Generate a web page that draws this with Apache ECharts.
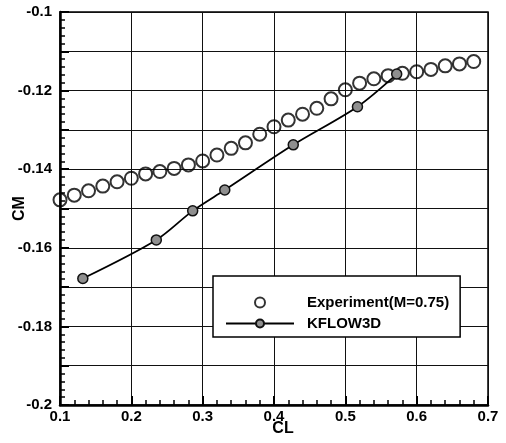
<!DOCTYPE html>
<html>
<head>
<meta charset="utf-8">
<script src="https://cdn.jsdelivr.net/npm/echarts@6/dist/echarts.min.js"></script>
<style>html,body{margin:0;padding:0;background:#fff}#c{width:506px;height:443px}</style>
</head>
<body>
<div id="c"></div>
<script>
var expCL = [0.10,0.12,0.14,0.16,0.18,0.20,0.22,0.24,0.26,0.28,0.30,0.32,0.34,0.36,0.38,0.40,0.42,0.44,0.46,0.48,0.50,0.52,0.54,0.56,0.58,0.60,0.62,0.64,0.66,0.68];
var expCM = [-0.1478,-0.1466,-0.1455,-0.1443,-0.1432,-0.1423,-0.1412,-0.1406,-0.1398,-0.1389,-0.1379,-0.1364,-0.1347,-0.1333,-0.1311,-0.1292,-0.1275,-0.1260,-0.1245,-0.1221,-0.1198,-0.1181,-0.1170,-0.1162,-0.1156,-0.1152,-0.1146,-0.1137,-0.1132,-0.1126];
var kfCL = [0.132,0.235,0.286,0.331,0.427,0.517,0.572];
var kfCM = [-0.1678,-0.1580,-0.1506,-0.1453,-0.1338,-0.1241,-0.1158];
var xTicks = [0.1,0.2,0.3,0.4,0.5,0.6,0.7];
var yTicks = [-0.2,-0.18,-0.16,-0.14,-0.12,-0.1];

var FONT = 'Liberation Sans, Arial, Helvetica, sans-serif';
function pairs(a,b){return a.map(function(v,i){return [v,b[i]];});}

var chart = echarts.init(document.getElementById('c'), null, {renderer:'canvas'});
chart.setOption({
  animation:false,
  backgroundColor:'#fff',
  grid:{left:60,right:18,top:12,bottom:38,containLabel:false,outerBoundsMode:'none',
        show:true,borderColor:'#000',borderWidth:1.5,backgroundColor:'transparent'},
  legend:{
    orient:'vertical',left:213,top:276,
    backgroundColor:'#fff',borderColor:'#000',borderWidth:1.5,
    padding:[19,11,6,12],
    itemWidth:68,itemHeight:10,itemGap:6,
    textStyle:{fontFamily:FONT,fontWeight:'bold',fontSize:15,color:'#000',padding:[0,0,0,8]},
    data:['Experiment(M=0.75)','KFLOW3D']
  },
  xAxis:{
    type:'value',min:0.1,max:0.7,interval:0.1,
    name:'CL',nameLocation:'middle',nameGap:16,nameMoveOverlap:false,
    nameTextStyle:{fontFamily:FONT,fontWeight:'bold',fontSize:16,color:'#000',padding:[0,0,0,18]},
    axisLine:{show:true,lineStyle:{color:'#000',width:2.5}},
    axisTick:{show:true,inside:true,length:9,lineStyle:{color:'#000',width:2}},
    minorTick:{show:true,splitNumber:5,length:5,lineStyle:{color:'#000',width:1.5}},
    splitLine:{show:true,lineStyle:{color:'#111',width:1}},
    axisLabel:{margin:4,fontFamily:FONT,fontWeight:'bold',fontSize:15,color:'#000',
      formatter:function(v){var r=Math.round(v*10)/10;return xTicks.indexOf(r)>=0?String(r):'';}}
  },
  yAxis:{
    type:'value',min:-0.2,max:-0.1,interval:0.01,
    name:'CM',nameLocation:'middle',nameGap:32,nameMoveOverlap:false,
    nameTextStyle:{fontFamily:FONT,fontWeight:'bold',fontSize:16,color:'#000'},
    axisLine:{show:true,lineStyle:{color:'#000',width:2.5}},
    axisTick:{show:true,inside:true,length:9,lineStyle:{color:'#000',width:2}},
    minorTick:{show:true,splitNumber:5,length:5,lineStyle:{color:'#000',width:1.5}},
    splitLine:{show:true,lineStyle:{color:'#111',width:1}},
    axisLabel:{margin:8,fontFamily:FONT,fontWeight:'bold',fontSize:15,color:'#000',
      formatter:function(v){var r=Math.round(v*100)/100;return yTicks.indexOf(r)>=0?String(r):'';}}
  },
  series:[
    {name:'Experiment(M=0.75)',type:'scatter',symbol:'circle',symbolSize:13,z:2,
     itemStyle:{color:'transparent',borderColor:'#000',borderWidth:2},
     data:pairs(expCL,expCM)},
    {name:'KFLOW3D',type:'line',smooth:0.3,symbol:'circle',symbolSize:10,z:3,
     lineStyle:{color:'#000',width:1.8},
     itemStyle:{color:'#8f8f8f',borderColor:'#111',borderWidth:1.5},
     data:pairs(kfCL,kfCM)}
  ]
});
</script>
</body>
</html>
